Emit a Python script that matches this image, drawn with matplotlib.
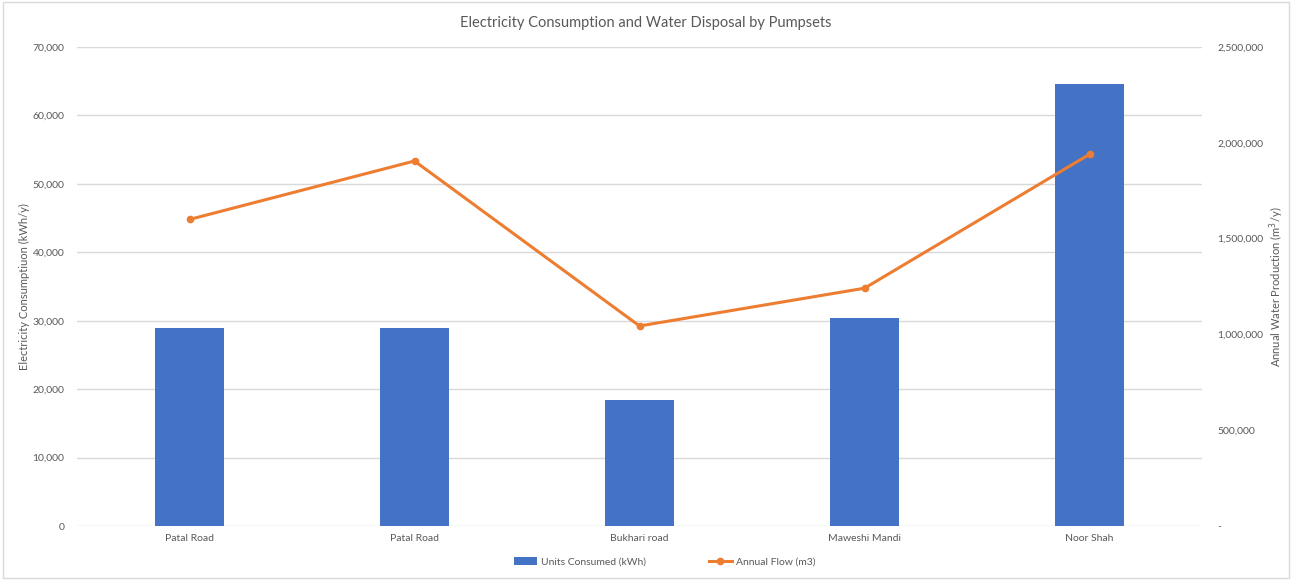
import matplotlib.pyplot as plt
from matplotlib.ticker import FuncFormatter, MultipleLocator
from matplotlib.patches import Rectangle

stations = ["Patal Road", "Patal Road", "Bukhari road", "Maweshi Mandi", "Noor Shah"]
units_kwh = [29000, 29000, 18400, 30400, 64600]
annual_flow = [1600000, 1905000, 1044000, 1241000, 1940000]

plt.rcParams['font.family'] = ['Lato', 'DejaVu Sans']

blue = '#4472C4'
orange = '#ED7D31'
grey_txt = '#595959'
grid_col = '#D9D9D9'

W, H = 1292, 580
fig = plt.figure(figsize=(W / 100, H / 100), dpi=100)
ax_left, ax_w = 77, 1125
ax = fig.add_axes([ax_left / W, 1 - 526 / H, ax_w / W, 479 / H])
ax2 = ax.twinx()

x = list(range(len(stations)))
ax.bar(x, units_kwh, width=0.31, color=blue, zorder=2, label="Units Consumed (kWh)")
ax2.plot(x, annual_flow, color=orange, lw=2.2, marker='o', ms=4.5, zorder=3, label="Annual Flow (m3)")

ax.set_xlim(-0.5, len(stations) - 0.5)
ax.set_ylim(0, 70000)
ax2.set_ylim(0, 2500000)
ax.yaxis.set_major_locator(MultipleLocator(10000))
ax2.yaxis.set_major_locator(MultipleLocator(500000))
ax.yaxis.set_major_formatter(FuncFormatter(lambda v, p: f"{v:,.0f}"))
ax2.yaxis.set_major_formatter(FuncFormatter(lambda v, p: "-" if v == 0 else f"{v:,.0f}"))

ax.set_xticks(x)
ax.set_xticklabels(stations)
ax.grid(axis='y', color=grid_col, lw=1, zorder=0)
ax.set_axisbelow(True)

for a in (ax, ax2):
    for s in a.spines.values():
        s.set_visible(False)
    a.tick_params(length=0, labelsize=7.5, colors=grey_txt)
ax.tick_params(axis='y', pad=9)
ax2.tick_params(axis='y', pad=11)
ax.tick_params(axis='x', pad=6)

ax.set_ylabel("Electricity Consumptiuon (kWh/y)", fontsize=8, color=grey_txt)
ax2.set_ylabel("Annual Water Production (m$^3$/y)", fontsize=8, color=grey_txt,
               rotation=90)
ax.yaxis.set_label_coords((30 - ax_left) / ax_w, 0.5)
ax2.yaxis.set_label_coords((1268 - ax_left) / ax_w, 0.5)

fig.text(0.5, 1 - 23 / H, "Electricity Consumption and Water Disposal by Pumpsets",
         ha='center', va='center', fontsize=10.5, color=grey_txt)

h1, l1 = ax.get_legend_handles_labels()
h2, l2 = ax2.get_legend_handles_labels()
fig.legend(h1 + h2, l1 + l2, loc='center', bbox_to_anchor=(665 / W, 1 - 562 / H), ncol=2,
           frameon=False, fontsize=7.5, labelcolor=grey_txt, columnspacing=6,
           handlelength=2.2, handletextpad=0.4)

fig.patches.append(Rectangle((0.002, 0.003), 0.996, 0.993, transform=fig.transFigure,
                             fill=False, edgecolor='#D9D9D9', lw=1))

fig.savefig("out.png", dpi=100)
